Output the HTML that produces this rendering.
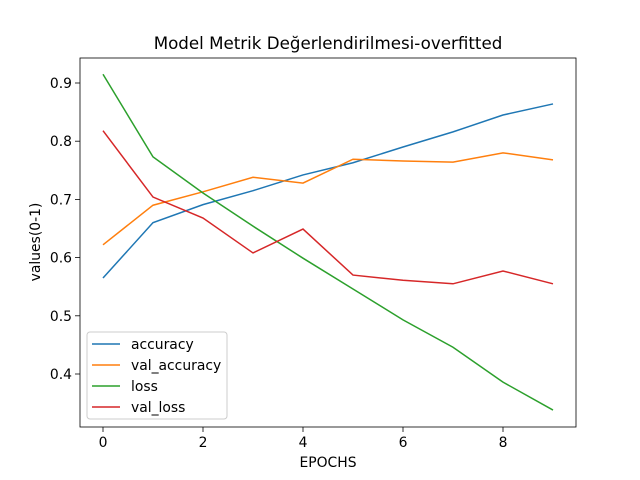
<!DOCTYPE html>
<html><head><meta charset="utf-8"><style>
body{margin:0;background:#fff;}
svg{display:block;font-family:"DejaVu Sans","Liberation Sans",sans-serif;}
</style></head><body>
<svg id="chart" width="640" height="480">
<rect width="640" height="480" fill="#fff"/>
<text x="328" y="49" font-size="16.7" text-anchor="middle">Model Metrik Değerlendirilmesi-overfitted</text>
<g id="plot"></g>
<rect x="80" y="58" width="496" height="369" fill="none" stroke="#000" stroke-width="0.8"/>
<text x="328" y="467" font-size="13.9" text-anchor="middle">EPOCHS</text>
<text transform="translate(40,242) rotate(-90)" font-size="13.9" text-anchor="middle">values(0-1)</text>
<g id="legend"></g>
</svg>
<script>
const epochs=[0,1,2,3,4,5,6,7,8,9];
const accuracy=[0.565,0.660,0.691,0.715,0.742,0.763,0.790,0.816,0.845,0.864];
const valAccuracy=[0.622,0.690,0.713,0.738,0.728,0.769,0.766,0.764,0.780,0.768];
const loss=[0.915,0.773,0.711,0.654,0.599,0.546,0.493,0.446,0.386,0.338];
const valLoss=[0.818,0.704,0.668,0.608,0.649,0.570,0.561,0.555,0.577,0.555];
const xTicks=[0,2,4,6,8];
const yTicks=[0.4,0.5,0.6,0.7,0.8,0.9];
const seriesNames=["accuracy","val_accuracy","loss","val_loss"];
const NS="http://www.w3.org/2000/svg";
function X(v){return 103+50*v;}
function Y(v){return 374-(v-0.4)*582;}
const plot=document.getElementById('plot');
function mk(t,a,p){const e=document.createElementNS(NS,t);for(const k in a)e.setAttribute(k,a[k]);(p||plot).appendChild(e);return e;}
xTicks.forEach(t=>{
  const l=mk('line',{x1:X(t),x2:X(t),y1:427,y2:432,stroke:'#000','stroke-width':0.8});
  
  
  const s=mk('text',{x:X(t),y:447,'font-size':13.9,'text-anchor':'middle'});s.textContent=t;
  
  
});
yTicks.forEach(t=>{
  const l=mk('line',{x1:75,x2:80,y1:Y(t),y2:Y(t),stroke:'#000','stroke-width':0.8});
  
  
  const s=mk('text',{x:72,y:Y(t)+5,'font-size':13.9,'text-anchor':'end'});s.textContent=t.toFixed(1);
  
  
});
const series=[accuracy,valAccuracy,loss,valLoss];
const colors=['#1f77b4','#ff7f0e','#2ca02c','#d62728'];
series.forEach((s,i)=>{
  const p=mk('polyline',{points:s.map((v,j)=>X(epochs[j])+','+Y(v)).join(' '),fill:'none',stroke:colors[i],'stroke-width':1.5});
  
  
});
const lg=document.getElementById('legend');
const box=mk('rect',{x:87,y:332,width:140,height:87,rx:3,fill:'#fff','fill-opacity':0.8,stroke:'#ccc','stroke-width':1},lg);


seriesNames.forEach((n,i)=>{
  const y=344+i*21;
  const l=mk('line',{x1:92,x2:120,y1:y,y2:y,stroke:colors[i],'stroke-width':1.5},lg);
  
  
  const t=mk('text',{x:131,y:y+5,'font-size':13.9},lg);t.textContent=n;
  
  
});
</script>
</body></html>
